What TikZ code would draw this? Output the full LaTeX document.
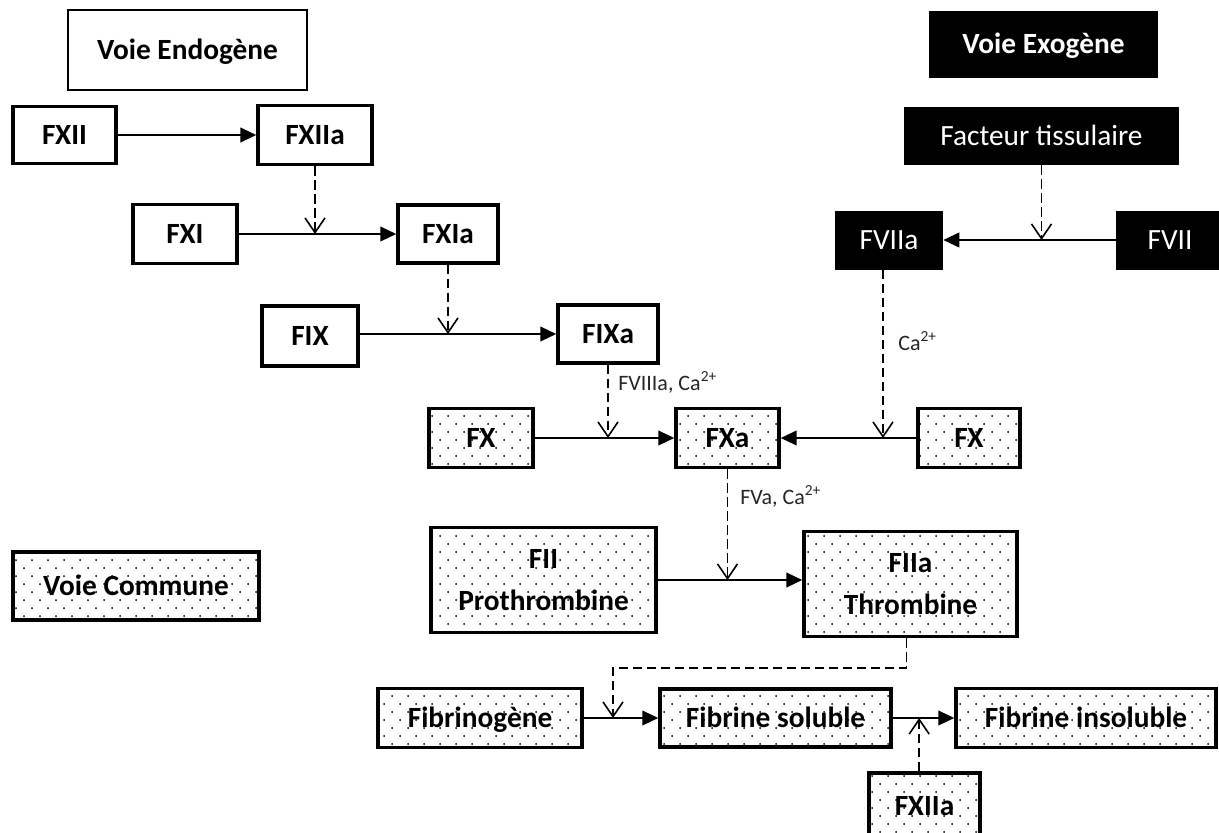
\documentclass[tikz,border=0pt]{standalone}
\usepackage{fontspec}
\setmainfont{Carlito}
\usetikzlibrary{arrows.meta,patterns.meta,calc}

\tikzdeclarepattern{
  name=sparsedots,
  type=uncolored,
  bottom left={(-1pt,-1pt)},
  top right={(11pt,11pt)},
  tile size={(12pt,12pt)},
  code={
    \pgfpathcircle{\pgfpointorigin}{0.75pt}
    \pgfpathcircle{\pgfpoint{6pt}{6pt}}{0.75pt}
    \pgfusepath{fill}
  }
}

\begin{document}
\begin{tikzpicture}[x=0.75pt,y=-0.75pt,
  sz/.style 2 args={minimum width=#1*0.75pt, minimum height=#2*0.75pt},
  base/.style={inner sep=0pt, align=center, font=\fontsize{22}{31}\selectfont\bfseries},
  one/.style={text height=18.2pt, text depth=4pt},
  wbox/.style={base, draw, line width=2.6pt},
  dbox/.style={wbox, pattern=sparsedots, pattern color=black},
  blackbox/.style={base, one, fill=black, text=white, font=\fontsize{22}{31}\selectfont},
  flow/.style={line width=1.5pt, -{Triangle[length=12pt,width=11pt]}},
  cat/.style={line width=1.35pt, dash pattern=on 7pt off 3.5pt, -{Straight Barb[length=11pt,width=15pt,line width=1.2pt]}},
  lab/.style={font=\fontsize{16.5}{19}\selectfont, text=black!85, anchor=base west, inner sep=0pt}
]
\fill[white] (0,0) rectangle (1219,832);
\useasboundingbox (0,0) rectangle (1219,832);

% headers
\node[wbox, one, line width=1.5pt, sz={239}{80}] (endo) at (187.5,50) {Voie Endogène};
\node[blackbox, font=\fontsize{22}{31}\selectfont\bfseries, sz={229}{67}] (exo) at (1043.5,44.5) {Voie Exogène};
\node[dbox, one, sz={246}{68}] (commune) at (136,586) {Voie Commune};

% endogenous
\node[wbox, one, sz={103}{57}] (fxii) at (64.5,135) {FXII};
\node[wbox, one, sz={114}{59}] (fxiia) at (315,135) {FXIIa};
\node[wbox, one, sz={104}{59}] (fxi) at (185,234) {FXI};
\node[wbox, one, sz={100}{58}] (fxia) at (448,234) {FXIa};
\node[wbox, one, sz={96}{60}] (fix) at (310,336) {FIX};
\node[wbox, one, sz={100}{58}] (fixa) at (608,334) {FIXa};

% exogenous
\node[blackbox, sz={275}{58}] (ft) at (1041.5,136) {Facteur tissulaire};
\node[blackbox, sz={108}{59}] (fviia) at (889,240) {FVIIa};
\node[blackbox, sz={108}{59}] (fvii) at (1170,240) {FVII};

% common
\node[dbox, one, sz={104}{59}] (fx1) at (481,438) {FX};
\node[dbox, one, sz={103}{59}] (fxa) at (727.5,438) {FXa};
\node[dbox, one, sz={102}{59}] (fx2) at (969,438) {FX};
\node[dbox, sz={225}{105}] (fii) at (543.5,580) {FII\\Prothrombine};
\node[dbox, sz={213}{105}] (fiia) at (910.5,584) {FIIa\\Thrombine};
\node[dbox, one, sz={204}{59}] (fbg) at (480,718) {Fibrinogène};
\node[dbox, one, sz={231}{58}] (fbs) at (775.5,718) {Fibrine soluble};
\node[dbox, one, sz={260}{59}] (fbi) at (1086,718) {Fibrine insoluble};
\node[dbox, one, sz={111}{66}] (fxiib) at (924.5,806) {FXIIa};

% solid conversions
\draw[flow] (fxii) -- (fxiia);
\draw[flow] (fxi) -- (fxia);
\draw[flow] (fix.east |- fixa.west) -- (fixa.west);
\draw[flow] (fvii) -- (fviia);
\draw[flow] (fx1) -- (fxa);
\draw[flow] (fx2) -- (fxa);
\draw[flow] (fii.east) -- (fiia.west |- fii.east);
\draw[flow] (fbg) -- (fbs);
\draw[flow] (fbs) -- (fbi);

% dashed catalysis
\draw[cat] (fxiia.south) -- (fxiia.south |- fxi.east);
\draw[cat] (fxia.south) -- (fxia.south |- fixa.west);
\draw[cat] (fixa.south) -- (fixa.south |- fx1.east);
\draw[cat] (ft.south) -- (ft.south |- fvii.west);
\draw[cat] ([xshift=-4.5pt]fviia.south) -- ([xshift=-4.5pt]fviia.south |- fx2.west);
\draw[cat] (fxa.south) -- (fxa.south |- fii.east);
\coordinate (c1) at (613,668);
\draw[cat] ([xshift=-3pt]fiia.south) |- (c1) -- (c1 |- fbg.east);
\draw[cat] ([xshift=-4pt]fxiib.north) -- ([xshift=-4pt]fxiib.north |- fbs.east);

% labels
\node[lab] (l1) at (618,390) {FVIIIa, Ca\textsuperscript{2+}};
\node[lab] (l2) at (898,350) {Ca\textsuperscript{2+}};
\node[lab] (l3) at (740,504) {FVa, Ca\textsuperscript{2+}};
\end{tikzpicture}
\end{document}
